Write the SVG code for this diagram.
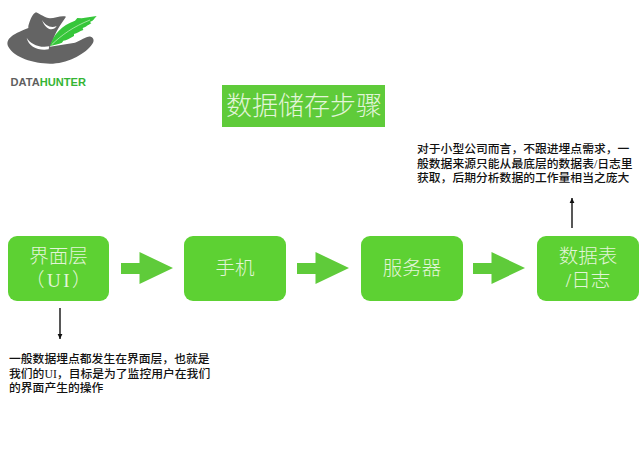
<svg xmlns="http://www.w3.org/2000/svg" width="640" height="473" viewBox="0 0 640 473">
<style>
.box{fill:#5dd133}
.arr{fill:#5fcb3a}
.big{font-family:"Liberation Serif","Noto Sans CJK SC",sans-serif;font-size:19.500px;fill:#e2f5d8;text-anchor:middle;font-weight:300}
.note{font-family:"Liberation Serif","Noto Sans CJK SC",serif;font-size:11.800px;fill:#111;font-weight:500}
.ln{stroke:#111;stroke-width:1.4;fill:none;marker-end:url(#ah)}
</style>
<defs><marker id="ah" markerUnits="userSpaceOnUse" markerWidth="6" markerHeight="6" refX="5" refY="3" orient="auto"><path d="M0,0.6L5,3L0,5.4Z" fill="#111"/></marker></defs>
<rect width="640" height="473" fill="#fff"/>
<g id="logo">
<g transform="scale(0.3333)">
<path d="M85,78C90,60 98,40 108,37C122,42 135,55 150,55C165,55 185,45 198,50C190,62 172,85 162,112L150,140L225,128C245,122 258,108 272,110C284,114 283,126 273,137C250,165 200,191 150,191C100,191 42,172 26,142C14,120 32,104 85,84Z" fill="#646464"/>
<path d="M126,60C136,76 152,86 170,78C160,94 138,92 126,60Z" fill="#fff"/>
<path d="M80,113C90,130 115,145 148,139L146,148C115,153 86,140 80,113Z" fill="#fff"/>
<path d="M150,138C160,105 185,75 225,62L232,54L245,55L290,48C280,58 284,60 270,66L274,70C262,76 260,80 248,84L250,90C238,94 232,100 222,102L222,108C208,116 200,122 190,122L186,128C175,132 165,135 150,138Z" fill="#36c63a"/>
<path d="M155,134C185,105 220,80 270,60" stroke="#d8f5d0" stroke-width="2" fill="none"/>
</g>
<text x="10.500" y="85.500" font-family="'Liberation Sans',sans-serif" font-size="11.100px" font-weight="700"><tspan fill="#5f5f5f">DATA</tspan><tspan fill="#35b535">HUNTER</tspan></text>
</g>
<g id="title">
<rect x="222" y="85" width="163" height="42" fill="#5fcb3a"/>
<text x="304" y="115" style="font-size:26px" class="big">数据储存步骤</text>
</g>
<g id="node-ui">
<rect class="box" x="8" y="236" width="101" height="65" rx="9"/>
<text class="big" x="58.500" y="263">界面层</text>
<text class="big" x="59.500" y="287" style="font-size:19px;letter-spacing:2.500px">（UI）</text>
</g>
<g id="node-phone">
<rect class="box" x="184" y="236" width="102" height="65" rx="9"/>
<text class="big" x="235" y="275">手机</text>
</g>
<g id="node-server">
<rect class="box" x="361" y="236" width="102" height="65" rx="9"/>
<text class="big" x="412" y="275">服务器</text>
</g>
<g id="node-table">
<rect class="box" x="537" y="236" width="102" height="65" rx="9"/>
<text class="big" x="588" y="263">数据表</text>
<text class="big" x="588" y="287">/日志</text>
</g>
<g id="connectors">
<path class="arr" d="M121,263H139.500V252L173,268L139.500,284V274H121Z"/>
<path class="arr" d="M297,263H315.500V252L349,268L315.500,284V274H297Z"/>
<path class="arr" d="M473,263H491.500V252L525,268L491.500,284V274H473Z"/>
<path class="ln" d="M60,308V339"/>
<path class="ln" d="M572,228V198"/>
</g>
<g id="note-left">
<text class="note" x="9" y="363">一般数据埋点都发生在界面层，也就是</text>
<text class="note" x="9" y="378">我们的UI，目标是为了监控用户在我们</text>
<text class="note" x="9" y="392">的界面产生的操作</text>
</g>
<g id="note-right">
<text class="note" x="417" y="153">对于小型公司而言，不跟进埋点需求，一</text>
<text class="note" x="417" y="167.500">般数据来源只能从最底层的数据表/日志里</text>
<text class="note" x="417" y="182">获取，后期分析数据的工作量相当之庞大</text>
</g>
</svg>
